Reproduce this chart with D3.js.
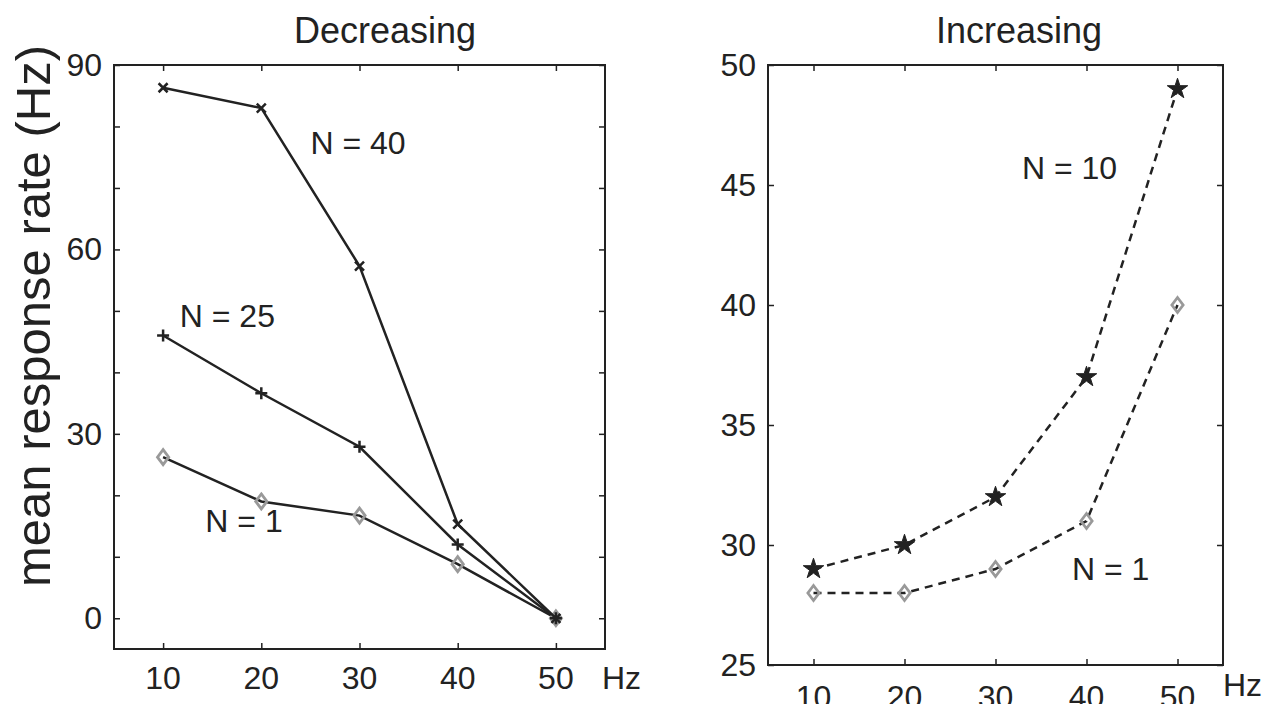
<!DOCTYPE html>
<html>
<head>
<meta charset="utf-8">
<script src="https://cdn.jsdelivr.net/npm/d3@7"></script>
<style>
  body { margin: 0; background: #fff; }
  svg { font-family: "Liberation Sans", Arial, sans-serif; }
</style>
</head>
<body>
<script>
// stimulus rate (Hz)
const hz = [10, 20, 30, 40, 50];

// Decreasing panel
const decN40 = [86.3, 83.0, 57.3, 15.3, 0];
const decN25 = [46.0, 36.6, 27.9, 12.0, 0];
const decN1 = [26.2, 19.0, 16.7, 8.8, 0];

// Increasing panel
const incN10 = [29, 30, 32, 37, 49];
const incN1 = [28, 28, 29, 31, 40];

const xTicks = [10, 20, 30, 40, 50];
const decYTicks = [0, 10, 20, 30, 40, 50, 60, 70, 80, 90];
const decYLabels = [0, 30, 60, 90];
const incYTicks = [25, 30, 35, 40, 45, 50];

const W = 1275, H = 704;
const ink = "#222";
const grey = "#999";

const svg = d3.select("body").append("svg")
  .attr("width", W)
  .attr("height", H)
  .attr("xmlns", "http://www.w3.org/2000/svg");

// marker paths
function markPath(type, s) {
  if (type === "x") return `M${-s},${-s}L${s},${s}M${-s},${s}L${s},${-s}`;
  if (type === "plus") return `M${-s},0L${s},0M0,${-s}L0,${s}`;
  if (type === "diamond") return `M0,${-s}L${s * 0.75},0L0,${s}L${-s * 0.75},0Z`;
  return d3.symbol(d3.symbolStar, s)();
}

function panel(opt) {
  const g = svg.append("g");
  const x = d3.scaleLinear().domain([5, 55]).range([opt.left, opt.right]);
  const y = d3.scaleLinear().domain(opt.yDomain).range([opt.bottom, opt.top]);

  // box
  g.append("rect")
    .attr("x", opt.left).attr("y", opt.top)
    .attr("width", opt.right - opt.left).attr("height", opt.bottom - opt.top)
    .attr("fill", "none").attr("stroke", ink).attr("stroke-width", 2);

  const tl = 6;
  // inward ticks on all sides
  g.append("g").attr("transform", `translate(0,${opt.bottom})`)
    .call(d3.axisBottom(x).tickValues(xTicks).tickSize(-tl).tickFormat(""))
    .call(a => a.select(".domain").remove());
  g.append("g").attr("transform", `translate(0,${opt.top})`)
    .call(d3.axisTop(x).tickValues(xTicks).tickSize(-tl).tickFormat(""))
    .call(a => a.select(".domain").remove());
  g.append("g").attr("transform", `translate(${opt.left},0)`)
    .call(d3.axisLeft(y).tickValues(opt.yTicks).tickSize(-tl).tickFormat(""))
    .call(a => a.select(".domain").remove());
  g.append("g").attr("transform", `translate(${opt.right},0)`)
    .call(d3.axisRight(y).tickValues(opt.yTicks).tickSize(-tl).tickFormat(""))
    .call(a => a.select(".domain").remove());
  g.selectAll(".tick line").attr("stroke", ink).attr("stroke-width", 1.5);

  // tick labels
  g.selectAll(".xl").data(xTicks).enter().append("text")
    .attr("x", d => x(d)).attr("y", opt.xLabelY)
    .attr("text-anchor", "middle").attr("dominant-baseline", "central")
    .attr("font-size", 32).attr("fill", ink).text(d => d);
  g.selectAll(".yl").data(opt.yLabels).enter().append("text")
    .attr("x", opt.left - 12).attr("y", d => y(d))
    .attr("text-anchor", "end").attr("dominant-baseline", "central")
    .attr("font-size", 32).attr("fill", ink).text(d => d);
  g.append("text")
    .attr("x", opt.right + 2 + opt.hzDx).attr("y", opt.hzY)
    .attr("dominant-baseline", "central")
    .attr("font-size", 32).attr("fill", ink).text("Hz");

  // title
  g.append("text")
    .attr("x", opt.titleX).attr("y", 30)
    .attr("text-anchor", "middle").attr("dominant-baseline", "central")
    .attr("font-size", 36).attr("fill", ink).text(opt.title);

  const line = d3.line().x((d, i) => x(hz[i])).y(d => y(d));

  opt.series.forEach(s => {
    g.append("path")
      .attr("d", line(s.values))
      .attr("fill", "none").attr("stroke", ink).attr("stroke-width", 2.5)
      .attr("stroke-dasharray", s.dash ? "8,6" : null);
  });
  opt.series.forEach(s => {
    g.selectAll(null).data(s.values).enter().append("path")
      .attr("transform", (d, i) => `translate(${x(hz[i])},${y(d)})`)
      .attr("d", markPath(s.mark, s.size))
      .attr("fill", s.mark === "star" ? ink : "none")
      .attr("stroke", s.mark === "diamond" ? grey : ink)
      .attr("stroke-width", s.mark === "star" ? 1 : (s.mark === "diamond" ? 2.8 : 2.5));
  });

  opt.notes.forEach(n => {
    g.append("text")
      .attr("x", x(n.x)).attr("y", y(n.y))
      .attr("dominant-baseline", "central")
      .attr("font-size", 32).attr("fill", ink).text(n.text);
  });
  return { x, y };
}

panel({
  left: 114, right: 605, top: 65, bottom: 649,
  yDomain: [-5, 90], yTicks: decYTicks, yLabels: decYLabels,
  xLabelY: 678, hzY: 678, hzDx: -5,
  title: "Decreasing", titleX: 385,
  series: [
    { values: decN1, mark: "diamond", size: 7.5, dash: false },
    { values: decN25, mark: "plus", size: 6, dash: false },
    { values: decN40, mark: "x", size: 4.5, dash: false }
  ],
  notes: [
    { x: 25, y: 77.3, text: "N = 40" },
    { x: 11.7, y: 49.2, text: "N = 25" },
    { x: 14.3, y: 15.8, text: "N = 1" }
  ]
});

panel({
  left: 768, right: 1223, top: 65, bottom: 665,
  yDomain: [25, 50], yTicks: incYTicks, yLabels: incYTicks,
  xLabelY: 697, hzY: 685, hzDx: -2,
  title: "Increasing", titleX: 1019,
  series: [
    { values: incN1, mark: "diamond", size: 7.5, dash: true },
    { values: incN10, mark: "star", size: 130, dash: true }
  ],
  notes: [
    { x: 32.9, y: 45.7, text: "N = 10" },
    { x: 38.4, y: 29.0, text: "N = 1" }
  ]
});

// shared y axis label
svg.append("text")
  .attr("transform", "translate(50,316) rotate(-90)")
  .attr("text-anchor", "middle")
  .attr("font-size", 49).attr("fill", ink)
  .text("mean response rate (Hz)");
</script>
</body>
</html>
